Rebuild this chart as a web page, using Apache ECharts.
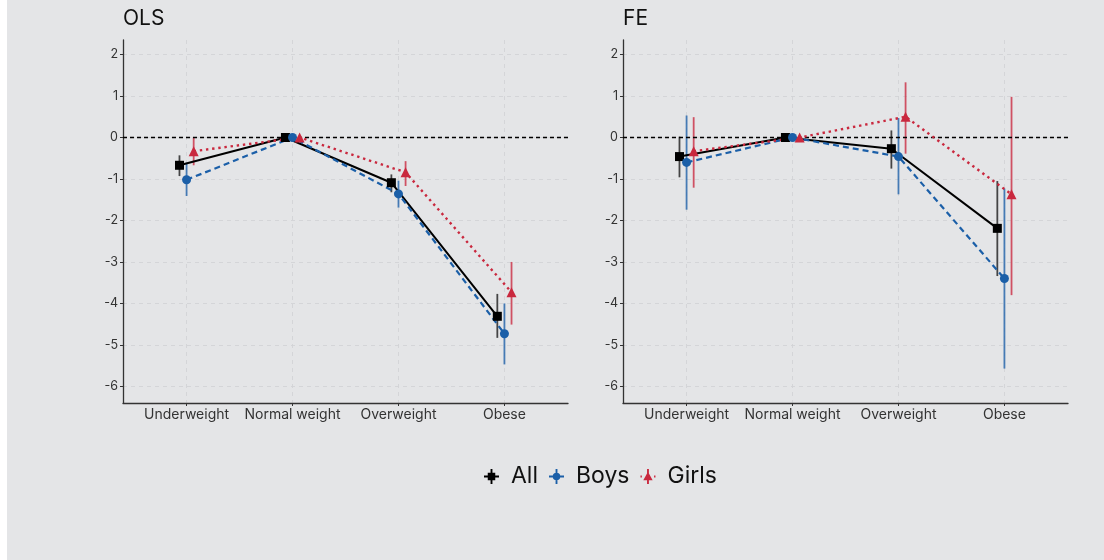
<!DOCTYPE html>
<html>
<head>
<meta charset="utf-8">
<script src="https://cdn.jsdelivr.net/npm/echarts@6/dist/echarts.min.js"></script>
<style>html,body{margin:0;padding:0;background:#fff;}#c{width:1104px;height:560px;}</style>
</head>
<body>
<div id="c"></div>
<script>
const categories = ['Underweight', 'Normal weight', 'Overweight', 'Obese'];
const yTicks = [-6, -5, -4, -3, -2, -1, 0, 1, 2];
const groups = ['All', 'Boys', 'Girls'];

const olsAll = [-0.67, 0, -1.09, -4.31];
const olsAllLo = [-0.93, 0, -1.32, -4.83];
const olsAllHi = [-0.43, 0, -0.89, -3.77];
const olsBoys = [-1.02, 0, -1.36, -4.73];
const olsBoysLo = [-1.41, 0, -1.69, -5.47];
const olsBoysHi = [-0.61, 0, -1.04, -4.00];
const olsGirls = [-0.33, 0, -0.84, -3.73];
const olsGirlsLo = [-0.67, 0, -1.17, -4.51];
const olsGirlsHi = [0.00, 0, -0.57, -3.00];

const feAll = [-0.46, 0, -0.27, -2.19];
const feAllLo = [-0.96, 0, -0.75, -3.34];
const feAllHi = [0.02, 0, 0.17, -1.05];
const feBoys = [-0.60, 0, -0.46, -3.40];
const feBoysLo = [-1.74, 0, -1.37, -5.57];
const feBoysHi = [0.53, 0, 0.47, -1.23];
const feGirls = [-0.33, 0, 0.50, -1.37];
const feGirlsLo = [-1.21, 0, -0.39, -3.80];
const feGirlsHi = [0.49, 0, 1.33, 0.98];

const colors = { All: '#000000', Boys: '#1b5fa8', Girls: '#c9283e' };
const errColors = { All: 'rgba(0,0,0,0.7)', Boys: 'rgba(27,95,168,0.78)', Girls: 'rgba(201,40,62,0.78)' };
const dodge = { All: -0.067, Boys: 0, Girls: 0.067 };
const symbols = { All: 'rect', Boys: 'circle', Girls: 'triangle' };
const symSize = { All: 9, Boys: 9, Girls: 10 };
const lineTypes = { All: 'solid', Boys: [6, 4], Girls: [2.4, 3.8] };
const lineWidths = { All: 2, Boys: 2.2, Girls: 2.4 };

const panels = [
  { title: 'OLS', left: 123, data: { All: [olsAll, olsAllLo, olsAllHi], Boys: [olsBoys, olsBoysLo, olsBoysHi], Girls: [olsGirls, olsGirlsLo, olsGirlsHi] } },
  { title: 'FE', left: 623, data: { All: [feAll, feAllLo, feAllHi], Boys: [feBoys, feBoysLo, feBoysHi], Girls: [feGirls, feGirlsLo, feGirlsHi] } }
];

const font = 'Inter, "Noto Sans", sans-serif';
const grids = [], xAxes = [], yAxes = [], series = [], titles = [];

panels.forEach((p, pi) => {
  grids.push({ left: p.left, top: 40, width: 445, height: 363 });
  titles.push({ text: p.title, left: p.left, top: 8, padding: 0, textStyle: { fontFamily: font, fontSize: 21, fontWeight: 'normal', color: '#111' } });
  xAxes.push({
    type: 'value', gridIndex: pi, min: 0.4, max: 4.6,
    axisLine: { show: true, onZero: false, lineStyle: { color: '#333', width: 1.3 } },
    axisTick: { show: true, length: 3, customValues: [1, 2, 3, 4], lineStyle: { color: '#333' } },
    axisLabel: { customValues: [1, 2, 3, 4], formatter: v => categories[Math.round(v) - 1] || '', color: '#333', fontFamily: font, fontSize: 14, margin: 5 },
    splitLine: { show: true, lineStyle: { color: '#d2d3d6', type: [4, 4], width: 0.9 } }
  });
  yAxes.push({
    type: 'value', gridIndex: pi, min: -6.4, max: 2.35,
    axisLine: { show: true, onZero: false, lineStyle: { color: '#333', width: 1.3 } },
    axisTick: { show: true, length: 3, customValues: yTicks, lineStyle: { color: '#333' } },
    axisLabel: { customValues: yTicks, color: '#333', fontFamily: font, fontSize: 12.5, margin: 5 },
    splitLine: { show: true, lineStyle: { color: '#d2d3d6', type: [4, 4], width: 0.9 } }
  });
  // error bars first, so the legend takes its plain fill style from them
  groups.forEach((g) => {
    const [vals, lo, hi] = p.data[g];
    series.push({
      name: g, type: 'custom', xAxisIndex: pi, yAxisIndex: pi, z: 4, animation: false,
      itemStyle: { color: colors[g] },
      data: vals.map((v, i) => [i + 1 + dodge[g], lo[i], hi[i]]),
      renderItem: (params, api) => {
        const a = api.coord([api.value(0), api.value(1)]);
        const b = api.coord([api.value(0), api.value(2)]);
        return { type: 'line', shape: { x1: a[0], y1: a[1], x2: b[0], y2: b[1] }, style: { stroke: errColors[g], lineWidth: 1.8 } };
      }
    });
  });
  groups.forEach((g, gi) => {
    const [vals] = p.data[g];
    const pts = vals.map((v, i) => [i + 1 + dodge[g], v]);
    const s = {
      name: g, type: 'line', xAxisIndex: pi, yAxisIndex: pi, data: pts,
      symbol: symbols[g], symbolSize: symSize[g], z: 5,
      itemStyle: { color: colors[g] },
      lineStyle: { color: colors[g], type: lineTypes[g], width: lineWidths[g] },
      emphasis: { disabled: true }, animation: false
    };
    if (gi === 0) {
      s.markLine = {
        silent: true, symbol: 'none', label: { show: false },
        lineStyle: { color: '#000', type: [4, 3], width: 1.3 },
        data: [{ yAxis: 0 }], animation: false
      };
    }
    series.push(s);
  });
});

const icons = {
  All: 'path://M0 7h16v2H0Z M7 0h2v16H7Z M4 4h8v8H4Z',
  Boys: 'path://M0 7h16v2H0Z M7 0h2v16H7Z M4 8A4 4 0 1 1 12 8A4 4 0 1 1 4 8Z',
  Girls: 'path://M0 7h1.5v2H0Z M14.5 7h1.5v2h-1.5Z M7 0h2v16H7Z M8 3L13 12H3Z'
};

const chart = echarts.init(document.getElementById('c'), null, { renderer: 'canvas' });
chart.setOption({
  backgroundColor: '#e4e5e7',
  animation: false,
  title: titles,
  grid: grids,
  xAxis: xAxes,
  yAxis: yAxes,
  legend: {
    data: groups.map(g => ({
      name: g, icon: icons[g],
      itemStyle: { color: colors[g], borderWidth: 0 }
    })),
    left: 479, top: 460, itemWidth: 15, itemHeight: 16, itemGap: 11,
    textStyle: { fontFamily: font, fontSize: 23, color: '#111', padding: [0, 0, 0, 7] },
    selectedMode: false
  },
  graphic: [{ type: 'rect', left: 0, top: 0, shape: { width: 7, height: 560 }, style: { fill: '#ffffff' }, silent: true }],
  series: series
});
</script>
</body>
</html>
